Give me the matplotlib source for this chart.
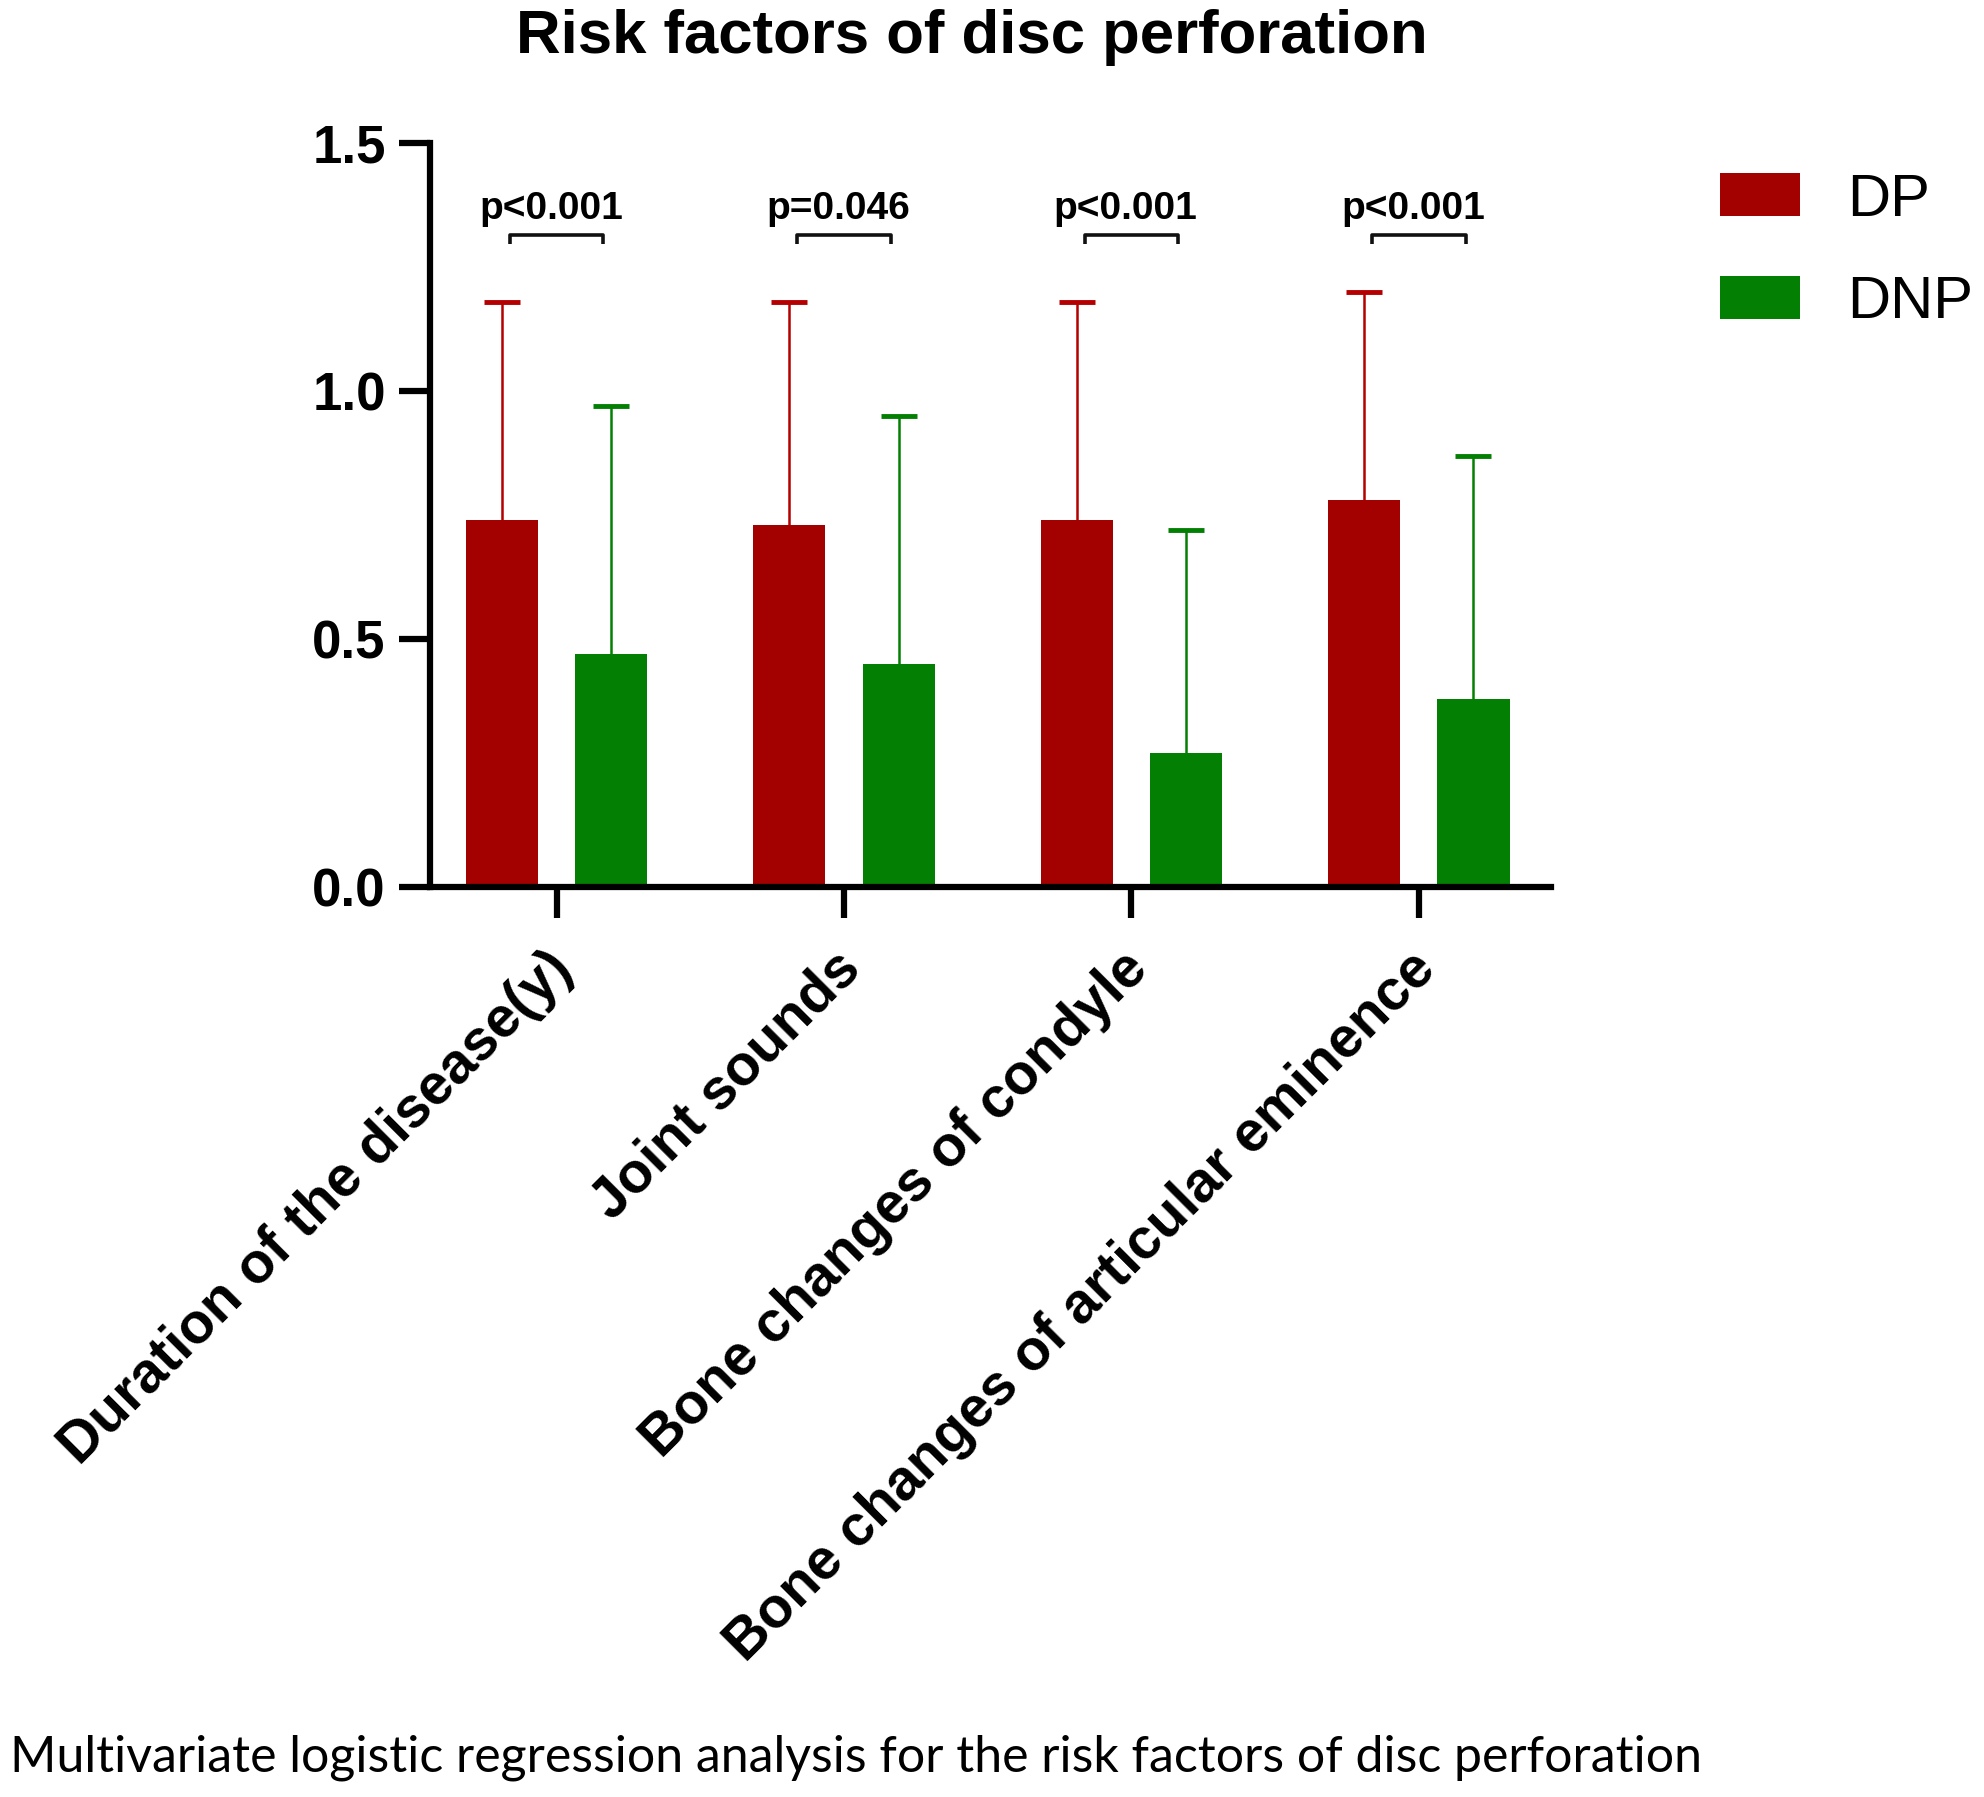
import matplotlib
matplotlib.use("Agg")
import matplotlib.pyplot as plt
from matplotlib.transforms import ScaledTranslation
import numpy as np

categories = ["Duration of the disease(y)", "Joint sounds",
              "Bone changes of condyle", "Bone changes of articular eminence"]
dp_mean = [0.74, 0.73, 0.74, 0.78]
dp_sd = [0.44, 0.45, 0.44, 0.42]
dnp_mean = [0.47, 0.45, 0.27, 0.38]
dnp_sd = [0.50, 0.50, 0.45, 0.49]
p_labels = ["p<0.001", "p=0.046", "p<0.001", "p<0.001"]

plt.rcParams['font.family'] = ['Liberation Sans', 'DejaVu Sans']

red = '#a30000'
red_err = '#b40000'
green = '#038003'

fig = plt.figure(figsize=(19.84, 17.97), dpi=100)
ax = fig.add_axes([0.2168, 0.5064, 0.565, 0.414])

x = np.arange(len(categories))
w = 0.251
off = 0.19

# upper-only error bars (lower caps hidden)
for xs, m, sd, c in [(x - off, dp_mean, dp_sd, red_err),
                     (x + off, dnp_mean, dnp_sd, green)]:
    eb = ax.errorbar(xs, m, yerr=[np.zeros(4), sd], fmt='none', ecolor=c,
                     elinewidth=1.8, capsize=13, capthick=3.5, zorder=1)
    eb[1][0].set_visible(False)

b1 = ax.bar(x - off, dp_mean, w, color=red, label='DP', zorder=2)
b2 = ax.bar(x + off, dnp_mean, w, color=green, label='DNP', zorder=2)

# significance brackets
for xi, p in zip(x, p_labels):
    ax.plot([xi - 0.163, xi - 0.163, xi + 0.163, xi + 0.163],
            [1.296, 1.314, 1.314, 1.296], color='#111111', lw=2.6,
            solid_capstyle='butt', clip_on=False)
    ax.text(xi - 0.02, 1.33, p, ha='center', va='bottom', fontsize=28,
            fontweight='bold')

ax.set_xlim(-0.44, 3.46)
ax.set_ylim(0, 1.5)
ax.set_yticks([0, 0.5, 1.0, 1.5])
ax.set_yticklabels(["0.0", "0.5", "1.0", "1.5"])
ax.set_xticks(x)
ax.set_xticklabels(categories, rotation=45, ha='right', va='top',
                   rotation_mode='anchor')

for s in ['top', 'right']:
    ax.spines[s].set_visible(False)
for s in ['left', 'bottom']:
    ax.spines[s].set_linewidth(4.5)
ax.spines['left'].set_bounds(0, 1.5)
ax.tick_params(axis='y', length=22, width=4.5, pad=10, labelsize=38)
ax.tick_params(axis='x', length=22, width=4.5, pad=12, labelsize=41)
for t in ax.get_yticklabels() + ax.get_xticklabels():
    t.set_fontweight('bold')
shift = ScaledTranslation(-8 / 72, -5 / 72, fig.dpi_scale_trans)
for t in ax.get_xticklabels():
    t.set_transform(t.get_transform() + shift)

leg = ax.legend(handles=[b1, b2], loc='upper left',
                bbox_to_anchor=(0.867, 0.904), bbox_transform=fig.transFigure,
                frameon=False, fontsize=43, handlelength=1.33,
                handleheight=0.72, handletextpad=0.8, labelspacing=0.8,
                borderpad=0, borderaxespad=0)

fig.text(0.49, 0.979, "Risk factors of disc perforation", ha='center',
         va='center', fontsize=44.5, fontweight='bold')
fig.text(0.005, 0.022,
         "Multivariate logistic regression analysis for the risk factors of disc perforation",
         ha='left', va='center', fontsize=36, family=['Lato', 'DejaVu Sans'])

fig.savefig("out.png", dpi=100)
